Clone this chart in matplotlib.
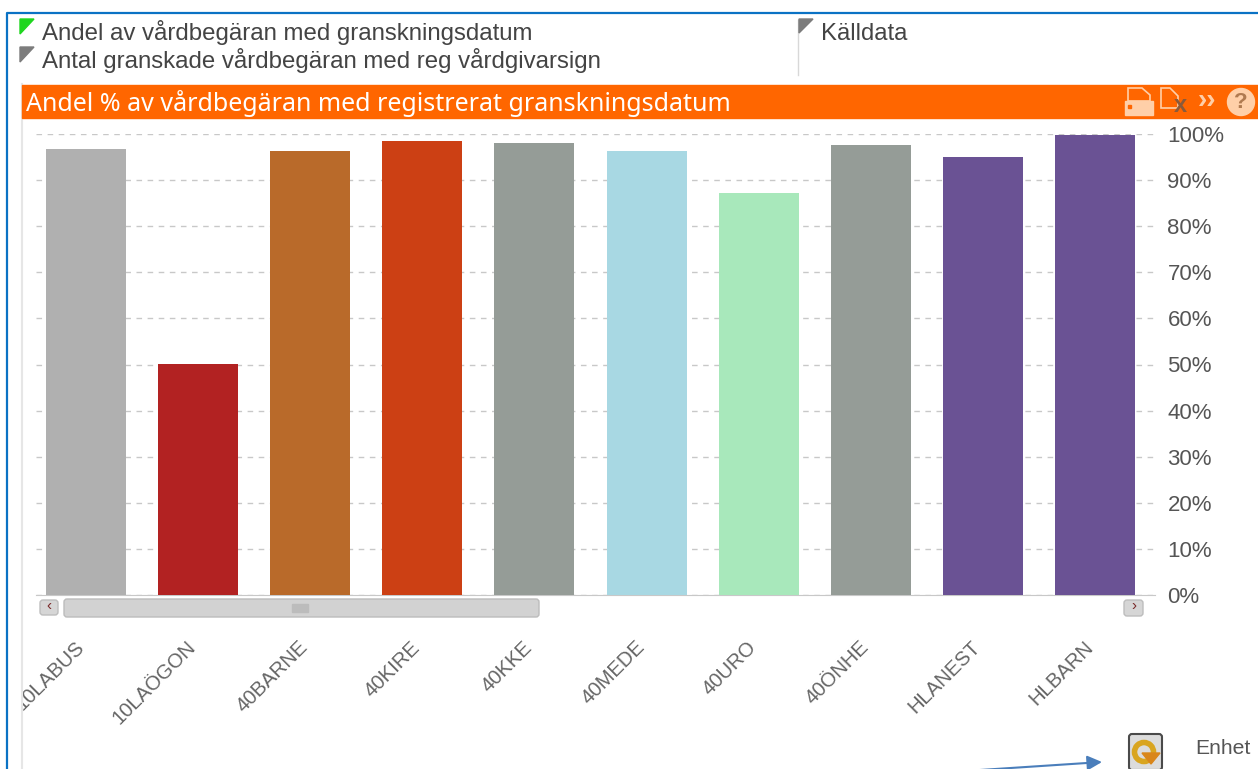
import matplotlib
matplotlib.use("Agg")
import matplotlib.pyplot as plt
from matplotlib.patches import Rectangle, FancyBboxPatch, Polygon, Circle
from matplotlib.transforms import ScaledTranslation

plt.rcParams["font.family"] = ["Liberation Sans", "DejaVu Sans"]

# Data
units = ["10LABUS", "10LAÖGON", "40BARNE", "40KIRE", "40KKE", "40MEDE", "40URO", "40ÖNHE", "HLANEST", "HLBARN"]
share = [96.7, 50.1, 96.3, 98.5, 98.0, 96.3, 87.2, 97.6, 95.0, 99.8]
bar_colors = ["#b0b0b0", "#b22222", "#b96a2a", "#cc4014", "#959c97", "#a8d8e3", "#a8e8bb", "#959c97", "#6a5294", "#6a5294"]
y_ticks = [0, 10, 20, 30, 40, 50, 60, 70, 80, 90, 100]
y_labels = ["0%", "10%", "20%", "30%", "40%", "50%", "60%", "70%", "80%", "90%", "100%"]
title = "Andel % av vårdbegäran med registrerat granskningsdatum"
menu_items = ["Andel av vårdbegäran med granskningsdatum", "Antal granskade vårdbegäran med reg vårdgivarsign"]

W, H = 1258, 769
fig = plt.figure(figsize=(W / 100, H / 100), dpi=100)

# Chart axes: left edge 36 px, right 1155 px, 0% at y=595, 100% at y=134
step = 112.11
ax = fig.add_axes([36 / W, 1 - 595 / H, (1155 - 36) / W, (595 - 134) / H])
ax.bar(range(len(units)), share, width=80 / step, color=bar_colors, zorder=3)
ax.set_xlim((36 - 86) / step, (1155 - 86) / step)
ax.set_ylim(0, 100)
ax.set_yticks(y_ticks)
ax.set_yticklabels(y_labels, fontsize=16, color="#555555")
ax.yaxis.tick_right()
ax.tick_params(axis="y", length=0, pad=9)
ax.set_xticks(range(len(units)))
ax.set_xticklabels(units, rotation=45, ha="right", va="center", rotation_mode="anchor",
                   fontsize=14.6, color="#666666")
ax.tick_params(axis="x", length=0, pad=35.5)
# nudge the slanted labels so they end under the bar centres
nudge = ScaledTranslation(-5 / 100, 0, fig.dpi_scale_trans)
for label in ax.get_xticklabels():
    label.set_transform(label.get_transform() + nudge)
ax.grid(axis="y", linestyle=(0, (4, 4)), color="#c8c8c8", linewidth=1, zorder=0)
for side in ["top", "left", "right"]:
    ax.spines[side].set_visible(False)
ax.spines["bottom"].set_color("#c8c8c8")

# Overlay in pixel coordinates for the surrounding window parts
ov = fig.add_axes([0, 0, 1, 1], zorder=5)
ov.set_xlim(0, W)
ov.set_ylim(H, 0)
ov.axis("off")
ov.patch.set_alpha(0)

# clip left of the panel and frame
ov.add_patch(Rectangle((8, 600), 13, 169, color="white", zorder=1))
ov.plot([21.5, 21.5], [84, 769], color="#e6e6e6", lw=1.5, zorder=2)
ov.plot([7, 7, 1258], [769, 13, 13], color="#0a72c4", lw=1.6, zorder=2)
ov.plot([797.5, 797.5], [20, 75], color="#d8d8d8", lw=1, zorder=2)

# menu
for y, txt, col in zip([32, 60], menu_items, ["#1fd61f", "#7c7c7c"]):
    ov.add_patch(Polygon([(20, y - 13), (34, y - 13), (20, y + 2)], color=col, zorder=3))
    ov.text(42, y + 0.5, txt, fontsize=17.3, color="#444444", va="center", ha="left")
ov.add_patch(Polygon([(799, 19), (813, 19), (799, 33)], color="#7c7c7c", zorder=3))
ov.text(821, 34, "Källdata", fontsize=17.2, color="#444444", va="center", ha="left")

# title bar
ov.add_patch(Rectangle((22, 85), 1236, 33, color="#ff6600", zorder=2))
ov.text(26, 104, title, fontsize=18, color="white", va="center", ha="left",
        family="Noto Sans", zorder=3)

# title bar icons
pale = "#ffcfa8"
ov.add_patch(Polygon([(1128, 88), (1142, 88), (1150, 95), (1150, 101), (1128, 101)], fc="#ff6600", ec=pale, lw=1.2, zorder=3))
ov.add_patch(Rectangle((1125, 101), 28, 14, color=pale, zorder=3))
ov.add_patch(Rectangle((1128, 105), 3, 3, color="#ff6600", zorder=4))
ov.add_patch(Polygon([(1161, 88), (1170, 88), (1178, 96), (1178, 108), (1161, 108)], fc="#ff6600", ec=pale, lw=1.2, zorder=3))
ov.text(1180, 106, "x", fontsize=17, weight="bold", color="#8a5a3a", ha="center", va="center", zorder=4)
ov.text(1207, 101, "››", fontsize=20, weight="bold", color=pale, ha="center", va="center", zorder=3)
ov.add_patch(Circle((1241, 102), 13.5, color=pale, zorder=3))
ov.text(1241, 102, "?", fontsize=16, weight="bold", color="#b07a50", ha="center", va="center", zorder=4)

# scrollbar
ov.add_patch(FancyBboxPatch((40, 600), 18, 15, boxstyle="round,pad=0,rounding_size=3", fc="#d6d6d6", ec="#bdbdbd", lw=1, zorder=3))
ov.text(49, 606, "‹", fontsize=11, color="#7a2a2a", ha="center", va="center", zorder=4)
ov.add_patch(FancyBboxPatch((64, 599), 475, 18, boxstyle="round,pad=0,rounding_size=3", fc="#d2d2d2", ec="#bcbcbc", lw=1, zorder=3))
ov.add_patch(Rectangle((292, 604), 16, 8, color="#bcbcbc", zorder=4))
ov.add_patch(FancyBboxPatch((1124, 600), 19, 16, boxstyle="round,pad=0,rounding_size=3", fc="#d6d6d6", ec="#bdbdbd", lw=1, zorder=3))
ov.text(1134, 606, "›", fontsize=11, color="#7a2a2a", ha="center", va="center", zorder=4)

# refresh button and unit label
ov.add_patch(FancyBboxPatch((1129, 734), 33, 36, boxstyle="round,pad=0,rounding_size=3", fc="#dcdcdc", ec="#4a4a4a", lw=1.5, zorder=3))
ov.add_patch(Circle((1144, 752), 9.5, fc="none", ec="#d9a520", lw=4, zorder=4))
ov.add_patch(Polygon([(1142, 753), (1160, 753), (1151, 764)], color="#d9861a", zorder=5))
ov.text(1195, 748, "Enhet", fontsize=15.2, color="#555555", va="center", ha="left")

# arrow annotation running off the bottom edge
ov.annotate("", xy=(1102, 762), xytext=(965, 771), zorder=4,
            arrowprops=dict(arrowstyle="-|>", color="#4a7ebb", lw=1.5, mutation_scale=22, shrinkA=0, shrinkB=0))

fig.savefig("out.png", dpi=100)
